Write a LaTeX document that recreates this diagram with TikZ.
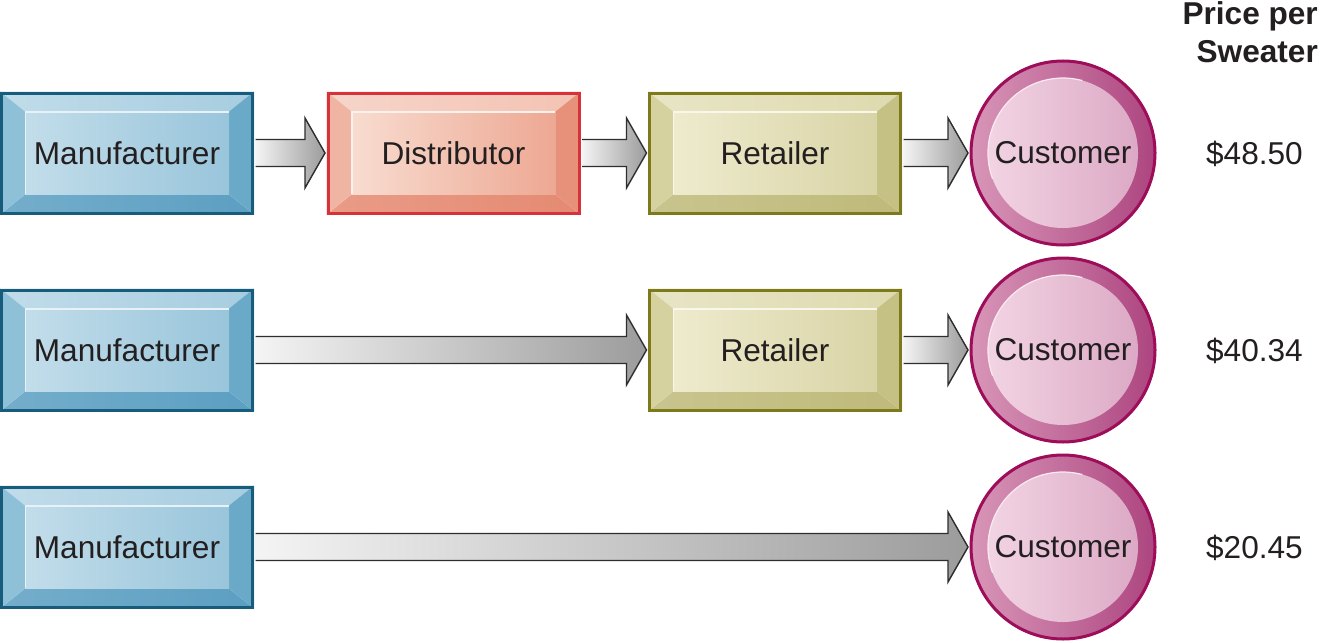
\documentclass[tikz,border=0pt]{standalone}
\usepackage{fontspec}
\setmainfont{Liberation Sans}
\usetikzlibrary{calc}
\definecolor{txt}{HTML}{231F20}
\definecolor{mfrB}{HTML}{175C7B}
\definecolor{mfrT}{HTML}{A6CDE0}
\definecolor{mfrL}{HTML}{8EC0D8}
\definecolor{mfrR}{HTML}{6AA9C8}
\definecolor{mfrD}{HTML}{5C9FC2}
\definecolor{mfrF}{HTML}{C2DDEA}
\definecolor{mfrG}{HTML}{99C5DB}
\definecolor{disB}{HTML}{D7323A}
\definecolor{disT}{HTML}{F3C3B3}
\definecolor{disL}{HTML}{EFB4A2}
\definecolor{disR}{HTML}{E8917A}
\definecolor{disD}{HTML}{E58A72}
\definecolor{disF}{HTML}{F8DCD0}
\definecolor{disG}{HTML}{EDA893}
\definecolor{retB}{HTML}{7D7A1C}
\definecolor{retT}{HTML}{DEDAAE}
\definecolor{retL}{HTML}{D6D2A0}
\definecolor{retR}{HTML}{C5C083}
\definecolor{retD}{HTML}{BFBA7A}
\definecolor{retF}{HTML}{EEEBCE}
\definecolor{retG}{HTML}{D9D4A6}
\definecolor{cusB}{HTML}{9E0D5A}
\definecolor{cusR}{HTML}{D896B8}
\definecolor{cusS}{HTML}{AD4580}
\definecolor{cusF}{HTML}{F2D4E3}
\definecolor{cusG}{HTML}{DCA9C5}
\definecolor{arrL}{HTML}{F4F4F4}
\definecolor{arrR}{HTML}{9C9C9C}
\definecolor{arrD}{HTML}{2E2E2E}
\newcommand\lblfont{\fontsize{31.6}{37}\selectfont}
\tikzset{
  boxnode/.style={draw=#1, line width=3pt, minimum width=251pt, minimum height=120pt,
    inner sep=0pt, font=\lblfont, text=txt},
  cusnode/.style={circle, draw=cusB, line width=3pt, minimum size=184pt, inner sep=0pt,
    font=\lblfont, text=txt},
  pricenode/.style={anchor=base east, font=\lblfont, text=txt, inner sep=0pt},
  headnode/.style={anchor=base east, font=\lblfont\bfseries, text=txt, inner sep=0pt},
  arrowsty/.style={left color=arrL, right color=arrR, draw=arrD, line width=1.4pt, line join=miter}
}
% #1 name, #2 x, #3 y, #4 colour prefix, #5 text
\newcommand\bevbox[5]{%
  \begin{scope}[shift={(#2,#3)}]
    \shade[left color=#4T!70!white, right color=#4T] (-127,-61.5) -- (127,-61.5) -- (102,-41.5) -- (-102,-41.5) -- cycle;
    \shade[left color=#4D!85!white, right color=#4D] (-127,61.5) -- (127,61.5) -- (102,41.5) -- (-102,41.5) -- cycle;
    \fill[#4L] (-127,-61.5) -- (-102,-41.5) -- (-102,41.5) -- (-127,61.5) -- cycle;
    \fill[#4R] (127,-61.5) -- (102,-41.5) -- (102,41.5) -- (127,61.5) -- cycle;
    \shade[left color=#4F, right color=#4G] (-102,-41.5) rectangle (102,41.5);
    \draw[white!60!#4F, line width=1.5pt] (-101.5,41) -- (-101.5,-41) -- (101.5,-41);
  \end{scope}
  \node[boxnode=#4B] (#1) at (#2,#3) {#5};
}
% #1 name, #2 y
\newcommand\cusnodecmd[2]{%
  \shade[left color=cusR, right color=cusS] (1063,#2) circle[radius=93pt];
  \shade[left color=cusF, right color=cusG] (1063,#2) circle[radius=75pt];
  \draw[white!50!cusF, line width=1.2pt] (1063,#2) ++(200:75pt) arc[start angle=200, end angle=75, radius=75pt];
  \node[cusnode] (#1) at (1063,#2) {Customer};
}
% #1 from node, #2 to node
\newcommand\garrow[2]{%
  \shadedraw[arrowsty] ($(#1.east)+(1.5pt,13.5pt)$) -- ($(#2.west)+(-21.5pt,13.5pt)$)
    -- ($(#2.west)+(-21.5pt,35pt)$) -- ($(#2.west)+(-1.5pt,0pt)$)
    -- ($(#2.west)+(-21.5pt,-35pt)$) -- ($(#2.west)+(-21.5pt,-13.5pt)$)
    -- ($(#1.east)+(1.5pt,-13.5pt)$);
}
\begin{document}
\begin{tikzpicture}[x=1pt,y=-1pt]
  \useasboundingbox (0,0) rectangle (1324,642);
  \fill[white] (0,0) rectangle (1324,642);
  % header
  \node[headnode] (h1) at (1318,25) {Price per};
  \node[headnode] (h2) at (1318,63) {Sweater};
  % row 1
  \bevbox{m1}{127}{153}{mfr}{Manufacturer}
  \bevbox{d1}{453.5}{153}{dis}{Distributor}
  \bevbox{r1}{775}{153}{ret}{Retailer}
  \cusnodecmd{c1}{153}
  \garrow{m1}{d1}
  \garrow{d1}{r1}
  \garrow{r1}{c1}
  \node[pricenode] (p1) at (1303,164) {\$48.50};
  % row 2
  \bevbox{m2}{127}{350}{mfr}{Manufacturer}
  \bevbox{r2}{775}{350}{ret}{Retailer}
  \cusnodecmd{c2}{350}
  \garrow{m2}{r2}
  \garrow{r2}{c2}
  \node[pricenode] (p2) at (1303,361) {\$40.34};
  % row 3
  \bevbox{m3}{127}{547}{mfr}{Manufacturer}
  \cusnodecmd{c3}{547}
  \garrow{m3}{c3}
  \node[pricenode] (p3) at (1303,558) {\$20.45};
\end{tikzpicture}
\end{document}
